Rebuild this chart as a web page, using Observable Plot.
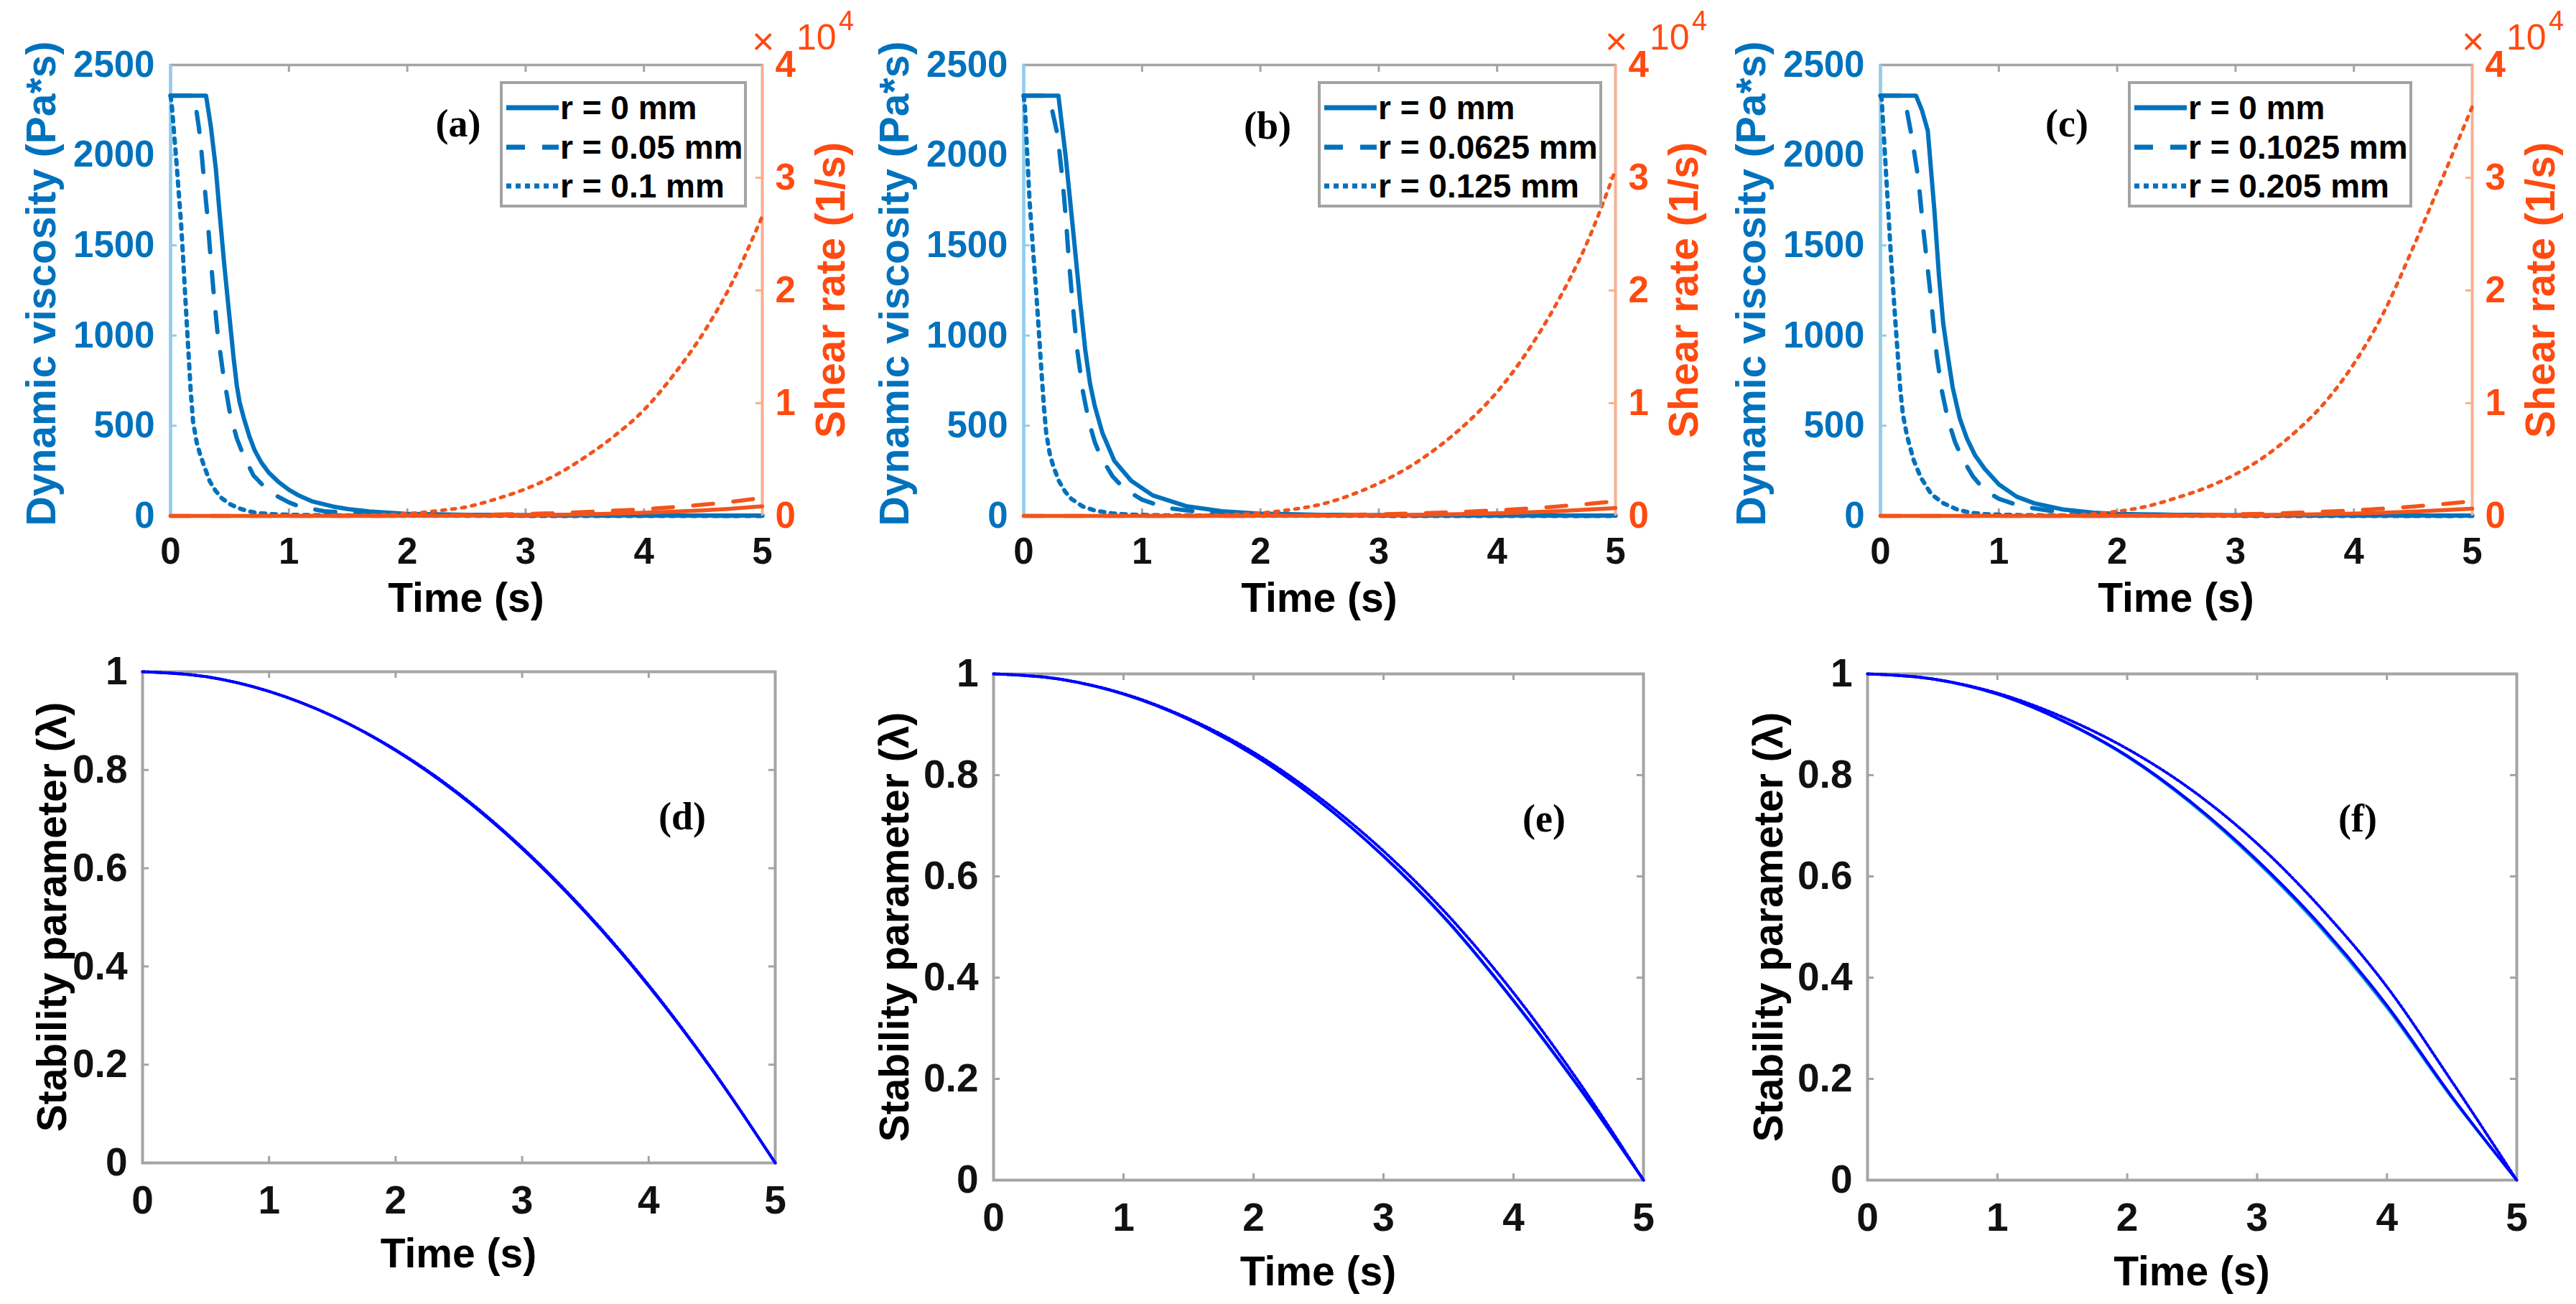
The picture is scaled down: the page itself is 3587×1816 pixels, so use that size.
<!DOCTYPE html>
<html><head><meta charset="utf-8">
<script src="https://cdn.jsdelivr.net/npm/d3@7"></script>
<script src="https://cdn.jsdelivr.net/npm/@observablehq/plot@0.6"></script>
<style>
html,body{margin:0;padding:0;background:#fff;}
#fig{position:relative;width:3587px;height:1816px;overflow:hidden;background:#fff;font-family:'Liberation Sans',Arial,sans-serif;}
#fig svg{overflow:visible;max-width:none;}
.legend{position:absolute;box-sizing:border-box;border:4px solid #a3a3a3;background:#fff;}
.mult{position:absolute;display:block;white-space:nowrap;overflow:visible;}
</style></head>
<body><div id="fig"></div>
<script>
// ---------------- DATA ----------------
const TIME_TICKS = [0, 1, 2, 3, 4, 5];
const VISC_TICKS = [0, 500, 1000, 1500, 2000, 2500];
const SHEAR_TICKS = [0, 10000, 20000, 30000, 40000];
const LAMBDA_TICKS = [0, 0.2, 0.4, 0.6, 0.8, 1];

const LEGEND_A = ["r = 0 mm", "r = 0.05 mm", "r = 0.1 mm"];
const LEGEND_B = ["r = 0 mm", "r = 0.0625 mm", "r = 0.125 mm"];
const LEGEND_C = ["r = 0 mm", "r = 0.1025 mm", "r = 0.205 mm"];
const PANEL_LETTERS = ["(a)", "(b)", "(c)", "(d)", "(e)", "(f)"];

// Panel (a) dynamic viscosity (Pa*s)
const visA_r0_t = [0, 0.30, 0.34, 0.382, 0.413, 0.453, 0.493, 0.534, 0.56, 0.584, 0.62, 0.665, 0.71, 0.766, 0.83, 0.908, 1.0, 1.09, 1.2, 1.373, 1.5, 1.677, 1.98, 2.5, 3, 4, 5];
const visA_r0_v = [2330, 2330, 2160, 1929, 1690, 1398, 1134, 868, 722, 629, 540, 443, 365, 297, 240, 191, 145, 111, 80, 52, 38, 25, 12, 6, 4, 3, 2];
const visA_r1_t = [0, 0.20, 0.22, 0.24, 0.26, 0.28, 0.311, 0.332, 0.362, 0.396, 0.443, 0.504, 0.56, 0.615, 0.70, 0.797, 0.90, 1.0, 1.09, 1.3, 1.6, 2.0, 3, 4, 5];
const visA_r1_v = [2330, 2330, 2240, 2150, 2030, 1880, 1664, 1485, 1253, 1021, 795, 562, 430, 337, 225, 158, 110, 75, 52, 26, 12, 5, 3, 2, 1];
const visA_r2_t = [0, 0.01, 0.05, 0.089, 0.109, 0.129, 0.15, 0.17, 0.19, 0.22, 0.25, 0.29, 0.332, 0.38, 0.433, 0.5, 0.574, 0.65, 0.746, 0.91, 1.2, 1.6, 2.0, 3, 5];
const visA_r2_v = [2330, 2280, 1960, 1620, 1398, 1160, 921, 695, 523, 410, 340, 265, 191, 140, 98, 66, 43, 27, 15, 8, 4, 2, 1, 0.5, 0.3];

// Panel (b)
const visB_r0_t = [0, 0.293, 0.354, 0.415, 0.475, 0.52, 0.56, 0.60, 0.665, 0.766, 0.908, 1.09, 1.373, 1.677, 1.98, 2.5, 3, 4, 5];
const visB_r0_v = [2330, 2330, 1996, 1598, 1199, 920, 735, 610, 460, 305, 195, 114, 54, 26, 13, 6, 4, 3, 2];
const visB_r1_t = [0, 0.20, 0.24, 0.28, 0.30, 0.32, 0.34, 0.36, 0.38, 0.41, 0.45, 0.50, 0.55, 0.60, 0.65, 0.75, 0.85, 1.0, 1.2, 1.5, 2.0, 3, 4, 5];
const visB_r1_v = [2330, 2330, 2250, 2130, 2030, 1910, 1775, 1615, 1430, 1199, 930, 690, 525, 410, 330, 220, 150, 90, 45, 20, 7, 3, 2, 1];
const visB_r2_t = [0, 0.01, 0.03, 0.05, 0.08, 0.11, 0.13, 0.15, 0.17, 0.19, 0.22, 0.25, 0.30, 0.35, 0.40, 0.50, 0.60, 0.75, 0.90, 1.2, 2.0, 3, 5];
const visB_r2_v = [2330, 2268, 2000, 1740, 1465, 1199, 1000, 800, 610, 460, 345, 275, 190, 135, 96, 52, 30, 14, 7, 3, 1, 0.5, 0.3];

// Panel (c)
const visC_r0_t = [0, 0.30, 0.35, 0.40, 0.456, 0.494, 0.53, 0.571, 0.61, 0.67, 0.73, 0.80, 0.88, 1.0, 1.15, 1.3, 1.54, 1.8, 2.0, 2.5, 3, 4, 5];
const visC_r0_v = [2330, 2330, 2250, 2135, 1690, 1334, 1068, 880, 712, 540, 430, 335, 262, 175, 107, 70, 36, 18, 11, 6, 4, 3, 2];
const visC_r1_t = [0, 0.20, 0.22, 0.27, 0.32, 0.36, 0.42, 0.475, 0.52, 0.57, 0.63, 0.69, 0.78, 0.88, 1.0, 1.19, 1.5, 2.0, 3, 4, 5];
const visC_r1_v = [2330, 2330, 2260, 2080, 1868, 1601, 1246, 890, 690, 534, 410, 320, 220, 142, 95, 53, 22, 8, 3, 2, 1];
const visC_r2_t = [0, 0.01, 0.05, 0.09, 0.127, 0.166, 0.19, 0.224, 0.28, 0.34, 0.43, 0.53, 0.65, 0.76, 0.9, 1.2, 2.0, 3, 5];
const visC_r2_v = [2330, 2313, 1868, 1423, 1068, 712, 560, 445, 310, 214, 120, 71, 35, 18, 9, 4, 1, 0.5, 0.3];

// Shear rate (1/s), common time grid
const SHEAR_T = [0, 1, 1.5, 1.75, 2, 2.25, 2.5, 2.75, 3, 3.25, 3.5, 3.75, 4, 4.25, 4.5, 4.75, 5];
const shearA_r0 = [0, 0, 0, 0, 10, 15, 30, 45, 70, 100, 150, 210, 280, 380, 500, 650, 850];
const shearA_r1 = [0, 0, 0, 0, 30, 40, 80, 120, 180, 250, 350, 470, 600, 780, 1000, 1270, 1600];
const shearA_r2 = [0, 0, 50, 100, 200, 450, 800, 1500, 2400, 3600, 5200, 7100, 9400, 12500, 16200, 20800, 26600];
const shearB_r0 = [0, 0, 0, 0, 10, 15, 25, 40, 60, 85, 125, 175, 235, 320, 420, 550, 700];
const shearB_r1 = [0, 0, 0, 0, 25, 35, 70, 100, 150, 210, 290, 390, 500, 650, 830, 1050, 1300];
const shearB_r2 = [0, 0, 50, 120, 250, 550, 1000, 1800, 2900, 4300, 6100, 8300, 11000, 14500, 18800, 24000, 30700];
const shearC_r0 = [0, 0, 0, 0, 8, 12, 20, 32, 50, 75, 110, 155, 210, 290, 390, 510, 650];
const shearC_r1 = [0, 0, 0, 0, 20, 35, 60, 95, 140, 200, 280, 380, 500, 650, 830, 1050, 1300];
const shearC_r2 = [0, 0, 50, 150, 400, 850, 1600, 2500, 3700, 5300, 7400, 10000, 13500, 18000, 23800, 30000, 36300];

// Stability parameter (lambda)
const LAMBDA_T = [0, 0.5, 1, 1.5, 2, 2.5, 3, 3.5, 4, 4.5, 5];
const lamD_r0 = [1, 0.99, 0.96, 0.91, 0.84, 0.75, 0.64, 0.51, 0.36, 0.19, 0];
const lamD_r1 = [1, 0.99, 0.96, 0.91, 0.84, 0.75, 0.64, 0.51, 0.36, 0.19, 0];
const lamD_r2 = [1, 0.99, 0.96, 0.91, 0.841, 0.752, 0.642, 0.512, 0.362, 0.191, 0];
const lamE_r0 = [1, 0.99, 0.96, 0.91, 0.84, 0.75, 0.64, 0.51, 0.355, 0.185, 0];
const lamE_r1 = [1, 0.99, 0.96, 0.91, 0.84, 0.749, 0.639, 0.508, 0.353, 0.183, 0];
const lamE_r2 = [1, 0.99, 0.961, 0.912, 0.845, 0.757, 0.65, 0.522, 0.37, 0.195, 0];
const lamF_r0 = [1, 0.99, 0.96, 0.908, 0.838, 0.745, 0.632, 0.5, 0.345, 0.165, 0];
const lamF_r1 = [1, 0.99, 0.96, 0.907, 0.836, 0.742, 0.628, 0.495, 0.34, 0.162, 0];
const lamF_r2 = [1, 0.99, 0.962, 0.915, 0.852, 0.77, 0.665, 0.535, 0.382, 0.195, 0];

// ---------------- STYLE / LAYOUT ----------------
const FONT = "'Liberation Sans', Arial, sans-serif";
const SERIF = "'Liberation Serif', 'Times New Roman', serif";
const BLUE = "#0072BD", LBLUE = "#90cdee";
const ORANGE = "#ff4a10", ORANGE_LINE = "#f2541c", LORANGE = "#ffad8c";
const GRAY = "#a4a4a4";
const PURE_BLUE = "#0000ff", TEAL = "#12a4d4";
const M = 170;
const STYLES = [
  {dash: null},
  {dash: "28,28"},
  {dash: "6,9"}
];

const fig = document.getElementById("fig");
const pts = (t, v) => t.map((x, i) => ({t: x, v: v[i]}));
const fmt = d => String(d);

function mount(svg, f) {
  const d = document.createElement("div");
  d.style.cssText = `position:absolute;left:${f.left - M}px;top:${f.top - M}px;pointer-events:none;`;
  d.appendChild(svg);
  fig.appendChild(d);
}

function addText(str, x, y, o = {}) {
  const d = document.createElement("div");
  d.textContent = str;
  d.style.cssText = `position:absolute;left:${x}px;top:${y}px;white-space:nowrap;line-height:1;` +
    `font-family:${o.family || FONT};font-size:${o.size}px;font-weight:${o.weight || "bold"};color:${o.color || "#000"};` +
    `transform:translate(-50%,-50%)${o.rotate ? " rotate(-90deg)" : ""};`;
  fig.appendChild(d);
}

// tight-box text: box of given height centered on y
function addTight(str, x, yCenter, size, h) {
  const d = document.createElement("div");
  d.className = "mult";
  d.textContent = str;
  d.style.cssText += `left:${x}px;top:${yCenter - h / 2}px;height:${h}px;line-height:${h}px;font-family:${FONT};font-size:${size}px;font-weight:normal;color:${ORANGE};`;
  fig.appendChild(d);
}

function addLegend(labels, box) {
  const d = document.createElement("div");
  d.className = "legend";
  d.style.left = box.left + "px"; d.style.top = box.top + "px";
  d.style.width = (box.right - box.left) + "px"; d.style.height = (box.bottom - box.top) + "px";
  const rows = [37, 92, 146];
  const dashes = [null, "26,24", "7,6"];
  labels.forEach((lab, i) => {
    const ns = "http://www.w3.org/2000/svg";
    const s = document.createElementNS(ns, "svg");
    s.setAttribute("width", 76); s.setAttribute("height", 12);
    s.style.cssText = `position:absolute;left:5px;top:${rows[i] - 4 - 6}px;overflow:visible;`;
    const l = document.createElementNS(ns, "line");
    l.setAttribute("x1", 0); l.setAttribute("x2", 73); l.setAttribute("y1", 6); l.setAttribute("y2", 6);
    l.setAttribute("stroke", BLUE); l.setAttribute("stroke-width", 7);
    if (dashes[i]) l.setAttribute("stroke-dasharray", dashes[i]);
    s.appendChild(l); d.appendChild(s);
    const t = document.createElement("div");
    t.textContent = lab;
    t.style.cssText = `position:absolute;left:80px;top:${rows[i] - 4}px;transform:translateY(-50%);white-space:nowrap;line-height:1;font:bold 46px ${FONT};color:#000;`;
    d.appendChild(t);
  });
  fig.appendChild(d);
}

function topPanel(f, vis, shear, legend, legBox, letterPos, letter) {
  const inner = TIME_TICKS.slice(1, -1);
  const blue = Plot.plot({
    width: f.w + 2 * M, height: f.h + 2 * M,
    marginLeft: M, marginRight: M, marginTop: M, marginBottom: M,
    x: {domain: [0, 5]}, y: {domain: [0, 2500]},
    style: {background: "transparent", overflow: "visible", fontFamily: FONT, fontWeight: "bold"},
    marks: [
      Plot.frame({stroke: GRAY, strokeWidth: 3.5}),
      Plot.tickX(inner, {x: d => d, stroke: GRAY, strokeWidth: 3, insetTop: f.h - 10}),
      Plot.tickX(inner, {x: d => d, stroke: GRAY, strokeWidth: 3, insetBottom: f.h - 10}),
      Plot.tickY(VISC_TICKS.slice(1, -1), {y: d => d, stroke: LBLUE, strokeWidth: 3, insetRight: f.w - 9}),
      Plot.ruleX([0], {stroke: LBLUE, strokeWidth: 4.5}),
      Plot.axisX({ticks: TIME_TICKS, tickSize: 0, tickPadding: 30, fontSize: 51, fontWeight: "bold", color: "#111", tickFormat: fmt, label: null}),
      Plot.axisY({ticks: VISC_TICKS, tickSize: 0, tickPadding: 22, fontSize: 51, fontWeight: "bold", color: BLUE, tickFormat: fmt, label: null}),
      ...vis.map((s, i) => Plot.line(pts(s[0], s[1]), {x: "t", y: "v", stroke: BLUE, strokeWidth: 6, strokeDasharray: STYLES[i].dash}))
    ]
  });
  mount(blue, f);
  const red = Plot.plot({
    width: f.w + 2 * M, height: f.h + 2 * M,
    marginLeft: M, marginRight: M, marginTop: M, marginBottom: M,
    x: {domain: [0, 5], axis: null}, y: {domain: [0, 40000]},
    style: {background: "transparent", overflow: "visible", fontFamily: FONT, fontWeight: "bold"},
    marks: [
      Plot.tickY(SHEAR_TICKS.slice(1, -1), {y: d => d, stroke: LORANGE, strokeWidth: 3, insetLeft: f.w - 9}),
      Plot.ruleX([5], {stroke: LORANGE, strokeWidth: 3.5}),
      Plot.axisY({anchor: "right", ticks: SHEAR_TICKS, tickSize: 0, tickPadding: 18, fontSize: 51, fontWeight: "bold", color: ORANGE, tickFormat: d => String(d / 10000), label: null}),
      ...shear.map((s, i) => Plot.line(pts(SHEAR_T, s), {x: "t", y: "v", stroke: ORANGE_LINE, strokeWidth: i === 2 ? 5 : 5.5, strokeDasharray: i === 2 ? "5,9" : STYLES[i].dash, curve: "monotone-x"}))
    ]
  });
  mount(red, f);
  const R = f.left + f.w;
  addText("Dynamic viscosity (Pa*s)", f.left - 180, 395, {size: 57, color: BLUE, rotate: true});
  addText("Shear rate (1/s)", R + 95, f.top + f.h / 2, {size: 57, color: ORANGE, rotate: true});
  addText("Time (s)", f.left + f.w / 2, 832, {size: 57});
  // x10^4 multiplier (kept clear of the "4" tick label)
  addTight("×", R - 14, 57, 54, 16);
  addTight("10", R + 48, 52, 50, 22);
  addTight("4", R + 107, 29, 38, 20);
  addLegend(legend, legBox);
  addText(letter, letterPos[0], letterPos[1], {size: 54, family: SERIF});
}

function bottomPanel(f, lams, labelX, letterPos, letter, timeY) {
  const inX = TIME_TICKS.slice(1, -1), inY = LAMBDA_TICKS.slice(1, -1);
  const colors = [PURE_BLUE, TEAL, PURE_BLUE];
  const order = [1, 0, 2];
  const p = Plot.plot({
    width: f.w + 2 * M, height: f.h + 2 * M,
    marginLeft: M, marginRight: M, marginTop: M, marginBottom: M,
    x: {domain: [0, 5]}, y: {domain: [0, 1]},
    style: {background: "transparent", overflow: "visible", fontFamily: FONT, fontWeight: "bold"},
    marks: [
      Plot.frame({stroke: GRAY, strokeWidth: 4}),
      Plot.tickX(inX, {x: d => d, stroke: GRAY, strokeWidth: 3, insetTop: f.h - 9}),
      Plot.tickX(inX, {x: d => d, stroke: GRAY, strokeWidth: 3, insetBottom: f.h - 9}),
      Plot.tickY(inY, {y: d => d, stroke: GRAY, strokeWidth: 3, insetRight: f.w - 9}),
      Plot.tickY(inY, {y: d => d, stroke: GRAY, strokeWidth: 3, insetLeft: f.w - 9}),
      Plot.axisX({ticks: TIME_TICKS, tickSize: 0, tickPadding: 31, fontSize: 55, fontWeight: "bold", color: "#111", tickFormat: fmt, label: null}),
      Plot.axisY({ticks: LAMBDA_TICKS, tickSize: 0, tickPadding: 21, fontSize: 55, fontWeight: "bold", color: "#111", tickFormat: fmt, label: null}),
      ...order.map(i => Plot.line(pts(LAMBDA_T, lams[i]), {x: "t", y: "v", stroke: colors[i], strokeWidth: i === 1 ? 3.5 : 4, strokeDasharray: i === 2 ? "3,3" : null, curve: "monotone-x"}))
    ]
  });
  mount(p, f);
  addText("Stability parameter (λ)", labelX, f.top + f.h / 2, {size: 57, rotate: true});
  addText("Time (s)", f.left + f.w / 2, timeY, {size: 57});
  addText(letter, letterPos[0], letterPos[1], {size: 54, family: SERIF});
}

// ---------------- BUILD ----------------
topPanel({left: 237, top: 90, w: 824, h: 628},
  [[visA_r0_t, visA_r0_v], [visA_r1_t, visA_r1_v], [visA_r2_t, visA_r2_v]],
  [shearA_r0, shearA_r1, shearA_r2], LEGEND_A,
  {left: 696, top: 113, right: 1040, bottom: 289}, [638, 172], PANEL_LETTERS[0]);
topPanel({left: 1425, top: 90, w: 824, h: 628},
  [[visB_r0_t, visB_r0_v], [visB_r1_t, visB_r1_v], [visB_r2_t, visB_r2_v]],
  [shearB_r0, shearB_r1, shearB_r2], LEGEND_B,
  {left: 1835, top: 113, right: 2231, bottom: 289}, [1765, 175], PANEL_LETTERS[1]);
topPanel({left: 2618, top: 90, w: 824, h: 628},
  [[visC_r0_t, visC_r0_v], [visC_r1_t, visC_r1_v], [visC_r2_t, visC_r2_v]],
  [shearC_r0, shearC_r1, shearC_r2], LEGEND_C,
  {left: 2963, top: 113, right: 3359, bottom: 289}, [2878, 172], PANEL_LETTERS[2]);

bottomPanel({left: 198, top: 935, w: 881, h: 684}, [lamD_r0, lamD_r1, lamD_r2], 72, [950, 1137], PANEL_LETTERS[3], 1745);
bottomPanel({left: 1383, top: 938, w: 905, h: 705}, [lamE_r0, lamE_r1, lamE_r2], 1245, [2150, 1140], PANEL_LETTERS[4], 1770);
bottomPanel({left: 2600, top: 938, w: 904, h: 705}, [lamF_r0, lamF_r1, lamF_r2], 2462, [3283, 1140], PANEL_LETTERS[5], 1770);
</script>
</body></html>
